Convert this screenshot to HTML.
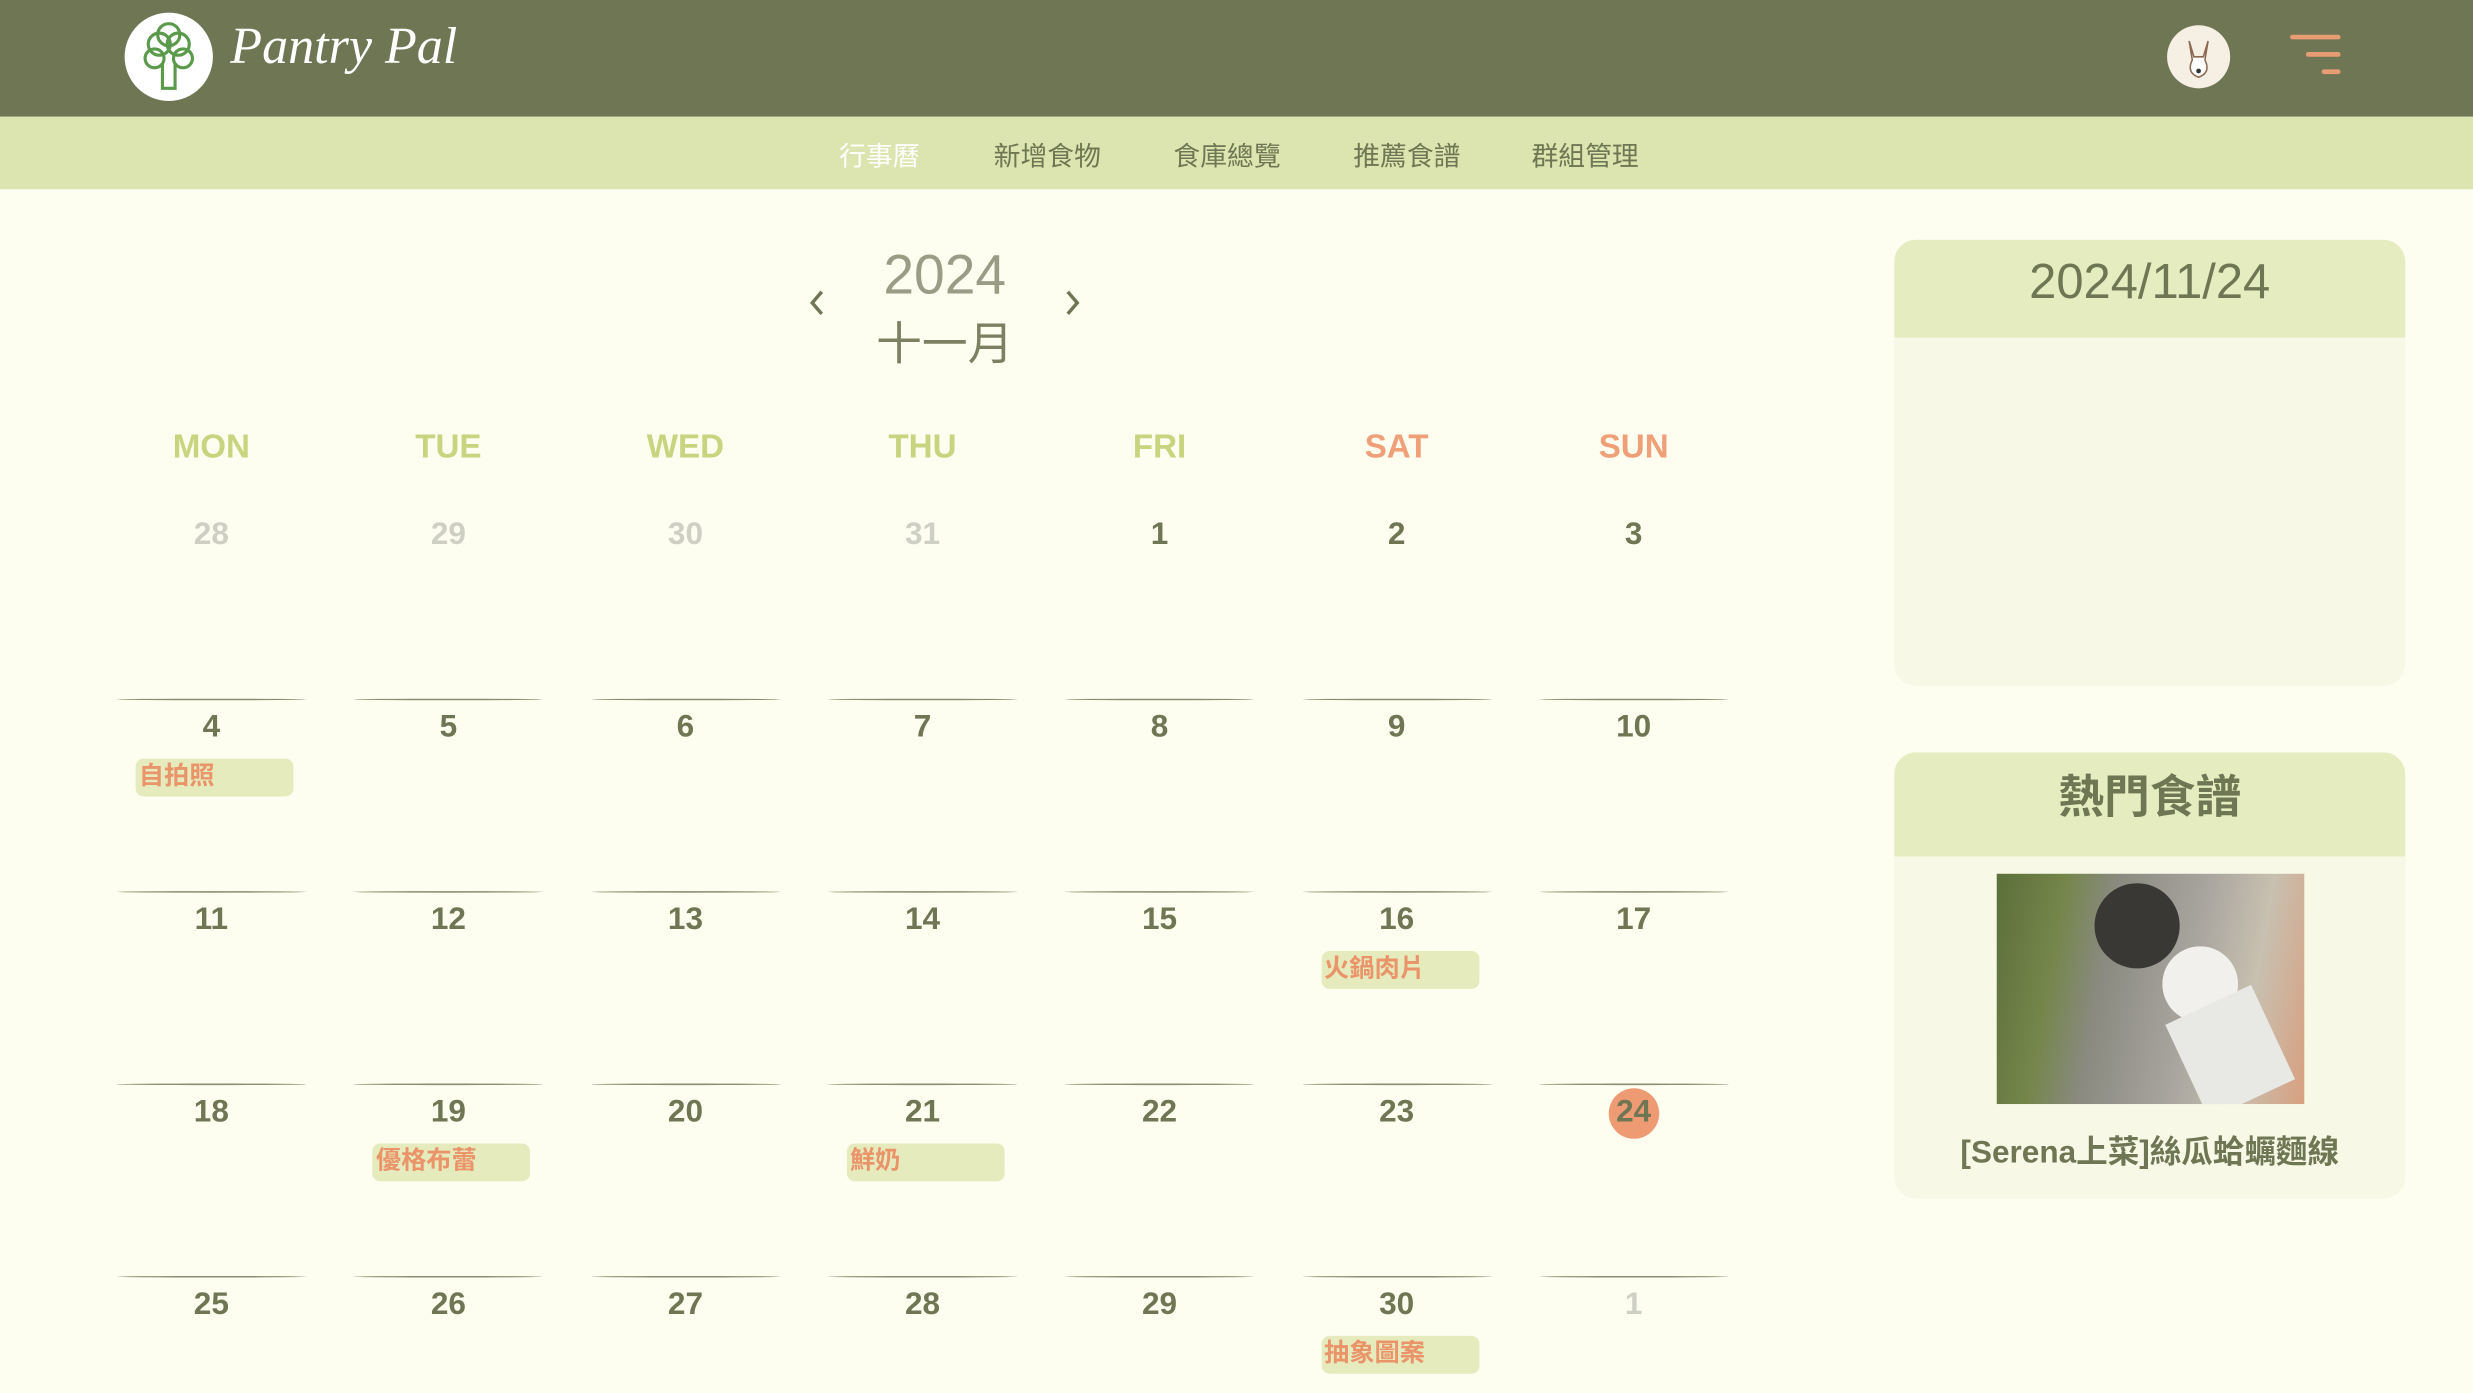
<!DOCTYPE html>
<html><head><meta charset="utf-8"><style>
html,body{margin:0;padding:0;width:2473px;height:1392px;overflow:hidden;background:#fdfdf0;}
#s{position:absolute;left:0;top:0;width:1568px;height:883px;transform:scale(1.5772);transform-origin:0 0;font-family:"Liberation Sans","Noto Sans CJK TC",sans-serif;}
.a{position:absolute;}
.hdr{left:0;top:0;width:1568px;height:74px;background:#6f7653;}
.nav{left:0;top:74px;width:1568px;height:46px;background:#dce5b0;}
.nv{top:85px;font-size:17px;color:#6f7653;}
.dow{top:272px;width:120px;text-align:center;font-size:21px;font-weight:bold;color:#c8d47e;}
.dt{width:120px;text-align:center;font-size:20px;font-weight:bold;color:#6f7653;}
.ln{height:1px;width:120px;background:#8a8f72;border-radius:50%;}
.ev{height:24px;width:100px;background:#e6ebbd;border-radius:5px;color:#ea946a;font-size:16px;font-weight:bold;line-height:24px;padding-left:2px;box-sizing:border-box;}
</style></head><body><div id="s">
<div class="a hdr"></div>
<div class="a" style="left:79px;top:8px;width:56px;height:56px;border-radius:50%;background:#fff;">
<svg width="56" height="56"><g fill="none" stroke="#5a9a4a" stroke-width="2"><circle cx="22" cy="20" r="7"/><circle cx="34" cy="20" r="7"/><circle cx="28" cy="14" r="7"/><circle cx="19" cy="29" r="6"/><circle cx="37" cy="29" r="6"/><path d="M24 32 L24 48 L32 48 L32 32"/></g></svg></div>
<div class="a" style="left:146px;top:12px;font-family:'Liberation Serif',serif;font-style:italic;font-size:33px;color:#fff;">Pantry Pal</div>
<div class="a" style="left:1374px;top:16px;width:40px;height:40px;border-radius:50%;background:#f6efe4;overflow:hidden">
<svg width="40" height="40"><path d="M14 10 L17 20 L23 20 L26 10 L24 22 Q28 30 20 33 Q12 30 16 22 Z" fill="#fff" stroke="#8a6a50" stroke-width="1"/><circle cx="20" cy="29" r="1.5" fill="#333"/></svg></div>
<div class="a" style="left:1452px;top:22px;width:32px;height:26px;">
<div class="a" style="left:0;top:0;width:32px;height:3px;background:#e89c74;border-radius:2px"></div>
<div class="a" style="left:10px;top:11px;width:22px;height:3px;background:#e89c74;border-radius:2px"></div>
<div class="a" style="left:20px;top:22px;width:12px;height:3px;background:#e89c74;border-radius:2px"></div></div>
<div class="a nav"></div>
<div class="a nv" style="left:532px;color:#fff">行事曆</div>
<div class="a nv" style="left:630px">新增食物</div>
<div class="a nv" style="left:744px">食庫總覽</div>
<div class="a nv" style="left:858px">推薦食譜</div>
<div class="a nv" style="left:971px">群組管理</div>
<svg class="a" style="left:511px;top:183px" width="14" height="18"><path d="M10 2 L4 9 L10 16" fill="none" stroke="#6f7653" stroke-width="2.2"/></svg>
<svg class="a" style="left:673px;top:183px" width="14" height="18"><path d="M4 2 L10 9 L4 16" fill="none" stroke="#6f7653" stroke-width="2.2"/></svg>
<div class="a" style="left:540px;top:155px;width:118px;text-align:center;font-size:35px;color:#9a9c86">2024</div>
<div class="a" style="left:540px;top:195px;width:118px;text-align:center;font-size:29px;color:#7c8162">十一月</div>
<div id="cal"></div>
<div class="a" style="left:1201px;top:152px;width:324px;height:283px;background:#f7f9e6;border-radius:14px;overflow:hidden">
<div style="height:62px;background:#e5ecc0;text-align:center;font-size:31px;line-height:54px;color:#6f7653">2024/11/24</div></div>
<div class="a" style="left:1201px;top:477px;width:324px;height:283px;background:#f7f9e6;border-radius:14px;overflow:hidden">
<div style="height:66px;background:#e5ecc0;text-align:center;font-size:29px;font-weight:bold;line-height:58px;color:#6f7653">熱門食譜</div>
<div class="a" style="left:65px;top:77px;width:195px;height:146px;overflow:hidden;background:linear-gradient(100deg,#5d6f3a 0,#74864a 20%,#8a8a80 35%,#a7a49e 60%,#c8c0b0 80%,#d8a080 100%)">
<div class="a" style="left:62px;top:6px;width:54px;height:54px;border-radius:50%;background:#3a3835"></div>
<div class="a" style="left:105px;top:46px;width:48px;height:48px;border-radius:50%;background:#f2f0ec"></div>
<div class="a" style="left:118px;top:80px;width:60px;height:66px;background:#e8e8e4;transform:rotate(-25deg)"></div></div>
<div class="a" style="left:0;top:237px;width:324px;text-align:center;font-size:20px;font-weight:bold;color:#6f7653">[Serena上菜]絲瓜蛤蠣麵線</div></div>
<script>
const weekdays=["MON","TUE","WED","THU","FRI","SAT","SUN"];
const dates=[28,29,30,31,1,2,3,4,5,6,7,8,9,10,11,12,13,14,15,16,17,18,19,20,21,22,23,24,25,26,27,28,29,30,1];
const otherMonth=[0,1,2,3,34];
const todayIndex=27;
const events=[[7,"自拍照"],[19,"火鍋肉片"],[22,"優格布蕾"],[24,"鮮奶"],[33,"抽象圖案"]];
const cal=document.getElementById('cal');
const cx=i=>134+i*150.3, ry=r=>340+r*122;
weekdays.forEach((w,i)=>{const d=document.createElement('div');d.className='a dow';


d.style.left=(cx(i)-60)+'px';if(i>=5)d.style.color='#f0a079';d.textContent=w;cal.appendChild(d);});
dates.forEach((n,k)=>{const c=k%7,r=Math.floor(k/7);
if(r>0){const l=document.createElement('div');l.className='a ln';


l.style.left=(cx(c)-60)+'px';l.style.top=(ry(r)-19)+'px';cal.appendChild(l);}
const d=document.createElement('div');d.className='a dt';


d.style.left=(cx(c)-60)+'px';d.style.top=(ry(r)-12)+'px';d.textContent=n;
if(otherMonth.includes(k))d.style.color='#cfd0c4';
if(k===todayIndex){const b=document.createElement('div');b.className='a';


b.style.cssText='left:'+(cx(c)-16)+'px;top:'+(ry(r)-16)+'px;width:32px;height:32px;border-radius:50%;background:#ee9a72';cal.appendChild(b);}
cal.appendChild(d);});
events.forEach(([k,t])=>{const c=k%7,r=Math.floor(k/7);const e=document.createElement('div');e.className='a ev';


e.style.left=(cx(c)-48)+'px';e.style.top=(ry(r)+141-122)+'px';e.textContent=t;cal.appendChild(e);});
</script>
</div></body></html>
